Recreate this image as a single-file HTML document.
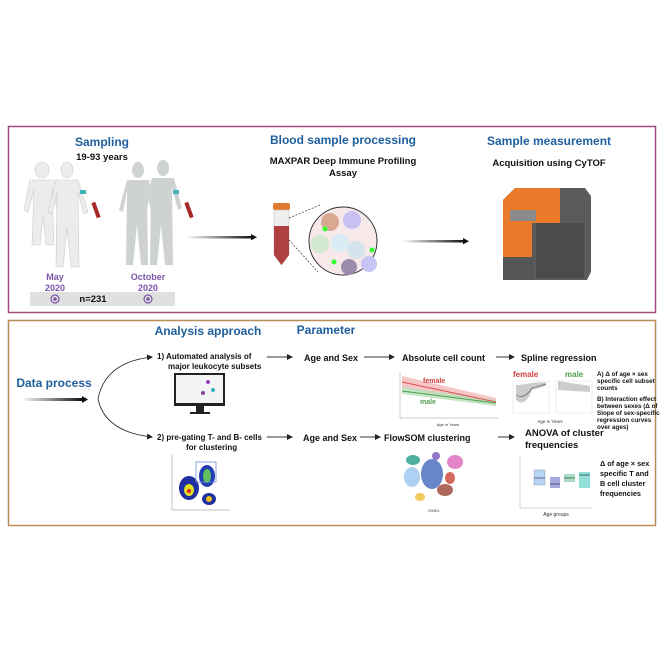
<!DOCTYPE html>
<html><head><meta charset="utf-8"><style>
html,body{margin:0;padding:0;background:#fff;}
svg{display:block;font-family:"Liberation Sans",sans-serif;}
.h{fill:#1f5f9e;font-weight:bold;font-size:12px;text-anchor:middle}
.b{fill:#111;font-weight:bold;font-size:9.5px;text-anchor:middle}
.s{fill:#111;font-weight:bold;font-size:6.3px}
.p{fill:#7a55a8;font-weight:bold;font-size:9px;text-anchor:middle}
</style></head><body>
<svg width="664" height="664" viewBox="0 0 664 664">
<defs>
<marker id="ah" markerWidth="6" markerHeight="6" refX="5" refY="3" orient="auto" markerUnits="userSpaceOnUse"><path d="M0,0L6,3L0,6z" fill="#222"/></marker>
<linearGradient id="ga" x1="0" x2="1"><stop offset="0" stop-color="#fff"/><stop offset="1" stop-color="#111"/></linearGradient>
</defs>
<rect width="664" height="664" fill="#fff"/>
<!-- TOP BOX -->
<rect x="8.5" y="126.5" width="647" height="186" fill="none" stroke="#a04a80" stroke-width="1.5"/>
<text class="h" x="102" y="146" font-size="13">Sampling</text>
<text class="b" x="102" y="160">19-93 years</text>
<g fill="#ececec" stroke="#ccc" stroke-width="0.6">
<ellipse cx="42" cy="170" rx="7" ry="8"/><path d="M30,180h24l8,30l-4,2l-6,-22l2,55h-8l-3,-30l-3,30h-8l2,-55l-6,22l-4,-2z"/>
<ellipse cx="67" cy="170" rx="6" ry="8"/><path d="M56,180h22l10,32l-4,2l-6,-22l1,75h-8l-4,-40l-4,40h-7l1,-75l-5,22l-4,-2z"/>
</g>
<g fill="#cfd2d2">
<ellipse cx="138" cy="170" rx="6" ry="8"/><path d="M127,180h22l6,30l-4,2l-4,-22l1,75h-7l-4,-40l-4,40h-7l1,-75l-4,22l-4,-2z"/>
<ellipse cx="163" cy="168" rx="6" ry="8"/><path d="M152,178h22l8,30l-4,2l-6,-22l1,77h-8l-4,-40l-4,40h-7l1,-77l-4,22l-4,-2z"/>
</g>
<rect x="80" y="190" width="6" height="4" fill="#3cb4b4"/><rect x="94" y="202" width="4" height="16" fill="#a82828" transform="rotate(-20 96 210)"/>
<rect x="173" y="190" width="6" height="4" fill="#3cb4b4"/><rect x="187" y="202" width="4" height="16" fill="#a82828" transform="rotate(-20 189 210)"/>
<text class="p" x="55" y="280">May</text><text class="p" x="55" y="291">2020</text>
<text class="p" x="148" y="280">October</text><text class="p" x="148" y="291">2020</text>
<rect x="30" y="292" width="145" height="14" fill="#e0e0e0"/>
<circle cx="55" cy="299" r="4" fill="none" stroke="#7a55a8" stroke-width="1.2"/><circle cx="55" cy="299" r="1.8" fill="#7a55a8"/>
<circle cx="148" cy="299" r="4" fill="none" stroke="#7a55a8" stroke-width="1.2"/><circle cx="148" cy="299" r="1.8" fill="#7a55a8"/>
<text class="b" x="93" y="302" font-size="9">n=231</text>
<rect x="186" y="236" width="66" height="2.5" fill="url(#ga)"/><path d="M251,234l6,3.2l-6,3.2z" fill="#111"/>
<text class="h" x="343" y="144">Blood sample processing</text>
<text class="b" x="343" y="164" font-size="9">MAXPAR Deep Immune Profiling</text>
<text class="b" x="343" y="176" font-size="9">Assay</text>
<rect x="273" y="203" width="17" height="7" rx="2" fill="#e07a30"/>
<path d="M274,210h15v45l-7.5,10l-7.5,-10z" fill="#eee" stroke="#bbb" stroke-width=".5"/>
<path d="M274,226h15v29l-7.5,10l-7.5,-10z" fill="#b04040"/>
<line x1="289" y1="218" x2="320" y2="205" stroke="#333" stroke-dasharray="2,1.5" stroke-width=".7"/>
<line x1="289" y1="240" x2="318" y2="272" stroke="#333" stroke-dasharray="2,1.5" stroke-width=".7"/>
<circle cx="343" cy="241" r="34" fill="#f7e8ea" stroke="#333" stroke-width="1"/>
<circle cx="330" cy="222" r="9" fill="#d8a890"/><circle cx="352" cy="220" r="9" fill="#c8c0f0"/><circle cx="320" cy="244" r="9" fill="#cfe8cf"/>
<circle cx="340" cy="243" r="9" fill="#d8ecf4"/><circle cx="356" cy="250" r="9" fill="#d4e4ec"/><circle cx="349" cy="267" r="8" fill="#9c8cac"/><circle cx="369" cy="264" r="8" fill="#c8c4f4"/>
<circle cx="325" cy="229" r="2.5" fill="#3f3"/><circle cx="334" cy="262" r="2.5" fill="#3f3"/><circle cx="372" cy="250" r="2.5" fill="#3f3"/>
<rect x="402" y="240" width="62" height="2.5" fill="url(#ga)"/><path d="M463,238l6,3.2l-6,3.2z" fill="#111"/>
<text class="h" x="549" y="145">Sample measurement</text>
<text class="b" x="549" y="166" font-size="9">Acquisition using CyTOF</text>
<path d="M503,200l12,-12h70l6,8v76l-4,8h-84z" fill="#5b5b5b"/>
<path d="M503,200l12,-12h45v35h-28v34h-29z" fill="#e87a2a"/>
<rect x="510" y="210" width="26" height="11" fill="#8a8a8a"/>
<rect x="536" y="223" width="48" height="55" fill="#4b4b4b"/>
<rect x="503" y="257" width="30" height="23" fill="#555"/>
<!-- BOTTOM BOX -->
<rect x="8.5" y="320.5" width="647" height="205" fill="none" stroke="#b88e58" stroke-width="1.5"/>
<text class="h" x="208" y="335" font-size="10.5">Analysis approach</text>
<text class="h" x="326" y="334" font-size="10.5">Parameter</text>
<text class="h" x="54" y="387" font-size="11.5">Data process</text>
<rect x="21" y="398" width="62" height="3" fill="url(#ga)"/><path d="M82,396l6,3.5l-6,3.5z" fill="#111"/>
<path d="M98,399 Q105,362 152,357" fill="none" stroke="#222" stroke-width=".8" marker-end="url(#ah)"/>
<path d="M98,399 Q105,432 152,437" fill="none" stroke="#222" stroke-width=".8" marker-end="url(#ah)"/>
<g style="font-weight:bold;font-size:8px;fill:#111">
<text x="157" y="359">1) Automated analysis of</text><text x="168" y="369">major leukocyte subsets</text>
<text x="157" y="440">2) pre-gating T- and B- cells</text><text x="186" y="450">for clustering</text>
</g>
<g stroke="#333" stroke-width="1" marker-end="url(#ah)">
<line x1="267" y1="357" x2="292" y2="357"/><line x1="364" y1="357" x2="394" y2="357"/><line x1="496" y1="357" x2="514" y2="357"/>
<line x1="267" y1="437" x2="292" y2="437"/><line x1="360" y1="437" x2="380" y2="437"/><line x1="498" y1="437" x2="514" y2="437"/>
</g>
<g style="font-weight:bold;font-size:9px;fill:#111">
<text x="304" y="361">Age and Sex</text><text x="402" y="361">Absolute cell count</text><text x="521" y="361">Spline regression</text>
<text x="303" y="441">Age and Sex</text><text x="384" y="441">FlowSOM clustering</text>
<text x="525" y="436" style="font-size:9.5px">ANOVA of cluster</text><text x="525" y="448" style="font-size:9.5px">frequencies</text>
</g>
<rect x="174" y="373" width="51" height="33" fill="#222"/><rect x="176" y="375" width="47" height="28" fill="#f4f4f4"/>
<circle cx="208" cy="382" r="2" fill="#a040c0"/><circle cx="213" cy="390" r="2" fill="#30b0c0"/><circle cx="203" cy="393" r="2" fill="#8040a0"/>
<rect x="196" y="406" width="8" height="6" fill="#222"/><rect x="190" y="412" width="20" height="2" fill="#222"/>
<g>
<line x1="400" y1="373" x2="400" y2="418" stroke="#999" stroke-width=".5"/><line x1="400" y1="418" x2="498" y2="418" stroke="#999" stroke-width=".5"/>
<path d="M402,376L496,398L496,406L402,388z" fill="#f4b8b8" opacity=".8"/>
<path d="M402,387L496,400L496,406L402,394z" fill="#b8e0b8" opacity=".8"/>
<line x1="402" y1="382" x2="496" y2="402" stroke="#e05050"/><line x1="402" y1="391" x2="496" y2="403" stroke="#50a050"/>
<text x="423" y="383" fill="#d04040" font-size="7" font-weight="bold">female</text>
<text x="420" y="404" fill="#50a050" font-size="7" font-weight="bold">male</text>
<text x="448" y="426" font-size="4" fill="#333" text-anchor="middle">Age in Years</text>
</g>
<text x="513" y="377" fill="#d04040" font-size="8" font-weight="bold">female</text>
<text x="565" y="377" fill="#50a050" font-size="8" font-weight="bold">male</text>
<rect x="513" y="381" width="36" height="32" fill="#fff" stroke="#ddd" stroke-width=".5"/>
<path d="M516,400Q525,408 532,390L546,386L546,382L532,383Q522,385 516,385z" fill="#ccc"/>
<path d="M516,395Q524,400 532,388L546,384" fill="none" stroke="#666" stroke-width=".7"/>
<rect x="556" y="381" width="36" height="32" fill="#fff" stroke="#ddd" stroke-width=".5"/>
<path d="M558,381L590,386L590,392L558,390z" fill="#ccc"/>
<text x="550" y="423" font-size="4.5" fill="#333" text-anchor="middle">Age in Years</text>
<g class="s"><text x="597" y="376">A) Δ of age × sex</text><text x="597" y="383">specific cell subset</text><text x="597" y="390">counts</text>
<text x="597" y="401">B) Interaction effect</text><text x="597" y="408">between sexes (Δ of</text><text x="597" y="415">Slope of sex-specific</text><text x="597" y="422">regression curves</text><text x="597" y="429">over ages)</text>
<text x="600" y="466" style="font-size:7.3px">Δ of age × sex</text><text x="600" y="476" style="font-size:7.3px">specific T and</text><text x="600" y="486" style="font-size:7.3px">B cell cluster</text><text x="600" y="496" style="font-size:7.3px">frequencies</text></g>
<line x1="172" y1="455" x2="172" y2="510" stroke="#888" stroke-width=".5"/><line x1="172" y1="510" x2="230" y2="510" stroke="#888" stroke-width=".5"/>
<ellipse cx="189" cy="488" rx="10" ry="12" fill="#2030a0"/><ellipse cx="189" cy="490" rx="5" ry="6" fill="#e0e020"/><circle cx="189" cy="491" r="2" fill="#e02020"/>
<ellipse cx="207" cy="476" rx="8" ry="11" fill="#2040b0"/><ellipse cx="207" cy="476" rx="4" ry="7" fill="#60c060"/>
<ellipse cx="209" cy="499" rx="7" ry="6" fill="#2030a0"/><circle cx="209" cy="499" r="3" fill="#f0c020"/>
<rect x="196" y="462" width="20" height="20" fill="none" stroke="#7090e0" stroke-width=".8"/>
<g opacity=".85"><ellipse cx="413" cy="460" rx="7" ry="5" fill="#30a090"/><ellipse cx="436" cy="456" rx="4" ry="4" fill="#8060c0"/>
<ellipse cx="412" cy="477" rx="8" ry="10" fill="#a0c8f0"/><ellipse cx="432" cy="474" rx="11" ry="15" fill="#5070c0"/>
<ellipse cx="455" cy="462" rx="8" ry="7" fill="#e070c0"/><ellipse cx="450" cy="478" rx="5" ry="6" fill="#d05040"/><ellipse cx="445" cy="490" rx="8" ry="6" fill="#a05040"/>
<ellipse cx="420" cy="497" rx="5" ry="4" fill="#f0c040"/></g>
<text x="434" y="512" font-size="4" fill="#444" text-anchor="middle">tSNE1</text>
<line x1="520" y1="456" x2="520" y2="508" stroke="#aaa" stroke-width=".5"/><line x1="520" y1="508" x2="592" y2="508" stroke="#aaa" stroke-width=".5"/>
<rect x="534" y="470" width="11" height="15" fill="#b8d4f4" stroke="#88a" stroke-width=".4"/><line x1="534" y1="478" x2="545" y2="478" stroke="#668"/>
<rect x="550" y="477" width="10" height="11" fill="#a8a8e0"/><line x1="550" y1="484" x2="560" y2="484" stroke="#557"/>
<rect x="564" y="474" width="11" height="8" fill="#a8dcc8"/><line x1="564" y1="478" x2="575" y2="478" stroke="#575"/>
<rect x="579" y="472" width="11" height="16" fill="#90e0d8"/><line x1="579" y1="475" x2="590" y2="475" stroke="#466"/>
<text x="556" y="516" font-size="5" fill="#333" text-anchor="middle">Age groups</text>
</svg>
</body></html>
